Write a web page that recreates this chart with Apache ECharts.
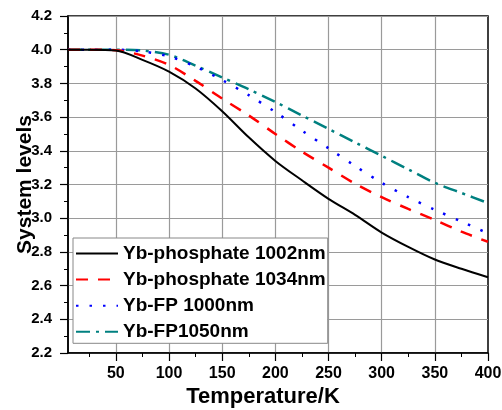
<!DOCTYPE html>
<html>
<head>
<meta charset="utf-8">
<script src="https://cdn.jsdelivr.net/npm/echarts@6/dist/echarts.min.js"></script>
<style>html,body{margin:0;padding:0;background:#fff;}#c{width:502px;height:410px;}</style>
</head>
<body>
<div id="c"></div>
<script>
const temperature = [5, 25, 50, 75, 100, 125, 150, 175, 200, 225, 250, 275, 300, 325, 350, 375, 400];
const ybPhosphate1002 = [4.0, 4.0, 3.995, 3.94, 3.87, 3.77, 3.635, 3.48, 3.34, 3.225, 3.115, 3.02, 2.915, 2.83, 2.755, 2.70, 2.65];
const ybPhosphate1034 = [4.0, 4.0, 3.997, 3.965, 3.91, 3.815, 3.71, 3.61, 3.50, 3.395, 3.30, 3.205, 3.125, 3.055, 2.99, 2.92, 2.86];
const ybFP1000 = [4.0, 4.0, 4.0, 3.99, 3.96, 3.90, 3.82, 3.73, 3.63, 3.52, 3.415, 3.31, 3.21, 3.125, 3.05, 2.98, 2.91];
const ybFP1050 = [4.0, 4.0, 4.0, 3.995, 3.97, 3.905, 3.835, 3.765, 3.69, 3.61, 3.53, 3.45, 3.37, 3.29, 3.21, 3.15, 3.09];
const seriesNames = ['Yb-phosphate 1002nm', 'Yb-phosphate 1034nm', 'Yb-FP 1000nm', 'Yb-FP1050nm'];
const xMajorTicks = [50, 100, 150, 200, 250, 300, 350, 400];
const xMinorTicks = [25, 75, 125, 175, 225, 275, 325, 375];

const pair = arr => temperature.map((t, i) => [t, arr[i]]);
const font = 'Liberation Sans, Arial, sans-serif';

// plot area geometry
const gLeft = 68, gRight = 14, gTop = 16, gBottom = 57, W = 502;
const xMin = 5, xMax = 400;
const pxPerUnit = (W - gLeft - gRight) / (xMax - xMin);
const gridLeft0 = gLeft - xMin * pxPerUnit; // where 0 K would fall

const chart = echarts.init(document.getElementById('c'), null, {renderer: 'canvas'});
chart.setOption({
  animation: false,
  backgroundColor: '#fff',
  grid: [
    {left: gLeft, right: gRight, top: gTop, bottom: gBottom, outerBoundsMode: 'none', containLabel: false,
     show: true, borderColor: '#000', borderWidth: 1.5, backgroundColor: 'transparent'},
    {left: gridLeft0, right: gRight, top: gTop, bottom: gBottom, outerBoundsMode: 'none', containLabel: false, show: false}
  ],
  legend: {
    orient: 'vertical', left: 73, top: 238,
    itemWidth: 42, itemHeight: 14, itemGap: 7.1,
    padding: [6, 2, 2, 2],
    borderColor: '#888', borderWidth: 1, backgroundColor: '#fff',
    itemStyle: {opacity: 0},
    textStyle: {fontFamily: font, fontWeight: 'bold', fontSize: 19, color: '#000'},
    data: seriesNames
  },
  xAxis: [{
    type: 'value', min: xMin, max: xMax, gridIndex: 0,
    name: 'Temperature/K', nameLocation: 'middle', nameGap: 33, nameMoveOverlap: false,
    nameTextStyle: {fontFamily: font, fontWeight: 'bold', fontSize: 22, color: '#000', padding: [0, 30, 0, 0]},
    axisLine: {lineStyle: {color: '#000', width: 1.5}},
    axisTick: {show: true, length: 8, customValues: xMajorTicks, lineStyle: {color: '#000', width: 1.2}},
    axisLabel: {customValues: xMajorTicks, fontFamily: font, fontWeight: 'bold', fontSize: 16, color: '#000', margin: 13},
    splitLine: {show: false}
  }, {
    type: 'value', min: xMin, max: xMax, gridIndex: 0, position: 'bottom',
    axisLine: {show: false},
    axisTick: {show: true, length: 4, customValues: xMinorTicks, lineStyle: {color: '#000', width: 1}},
    axisLabel: {show: false},
    splitLine: {show: false}
  }, {
    type: 'value', min: 0, max: xMax, interval: 50, gridIndex: 1, position: 'bottom',
    axisLine: {show: false}, axisTick: {show: false}, axisLabel: {show: false},
    splitLine: {show: true, showMinLine: false, showMaxLine: false, lineStyle: {color: '#9a9a9a', width: 1.2}},
    z: 0
  }],
  yAxis: [{
    type: 'value', min: 2.2, max: 4.2, interval: 0.2, gridIndex: 0,
    name: 'System levels', nameLocation: 'middle', nameGap: 32, nameMoveOverlap: false,
    nameTextStyle: {fontFamily: font, fontWeight: 'bold', fontSize: 21, color: '#000'},
    axisLine: {show: true, lineStyle: {color: '#000', width: 1.5}},
    axisTick: {show: true, length: 8, lineStyle: {color: '#000', width: 1.2}},
    minorTick: {show: true, splitNumber: 2, length: 4, lineStyle: {color: '#000', width: 1}},
    axisLabel: {fontFamily: font, fontWeight: 'bold', fontSize: 15, color: '#000', margin: 16,
      formatter: v => v.toFixed(1)},
    splitLine: {show: true, lineStyle: {color: '#9a9a9a', width: 1.2}}
  }, {
    type: 'value', min: 2.2, max: 4.2, gridIndex: 1,
    axisLine: {show: false}, axisTick: {show: false}, axisLabel: {show: false}, splitLine: {show: false}
  }],
  series: [
    {name: seriesNames[0], type: 'line', data: pair(ybPhosphate1002), smooth: 0.3, symbol: 'none',
     lineStyle: {color: '#000', width: 2}, itemStyle: {color: '#000'}, z: 5},
    {name: seriesNames[1], type: 'line', data: pair(ybPhosphate1034), smooth: 0.3, symbol: 'none',
     lineStyle: {color: '#ff0000', width: 2.5, type: [12, 10]}, itemStyle: {color: '#ff0000'}, z: 4},
    {name: seriesNames[2], type: 'line', data: pair(ybFP1000), smooth: 0.3, symbol: 'none',
     lineStyle: {color: '#0000ff', width: 2.5, type: [2.5, 11]}, itemStyle: {color: '#0000ff'}, z: 3},
    {name: seriesNames[3], type: 'line', data: pair(ybFP1050), smooth: 0.3, symbol: 'none',
     lineStyle: {color: '#008080', width: 2.5, type: [14, 6, 3, 6]}, itemStyle: {color: '#008080'}, z: 2}
  ]
});
</script>
</body>
</html>
